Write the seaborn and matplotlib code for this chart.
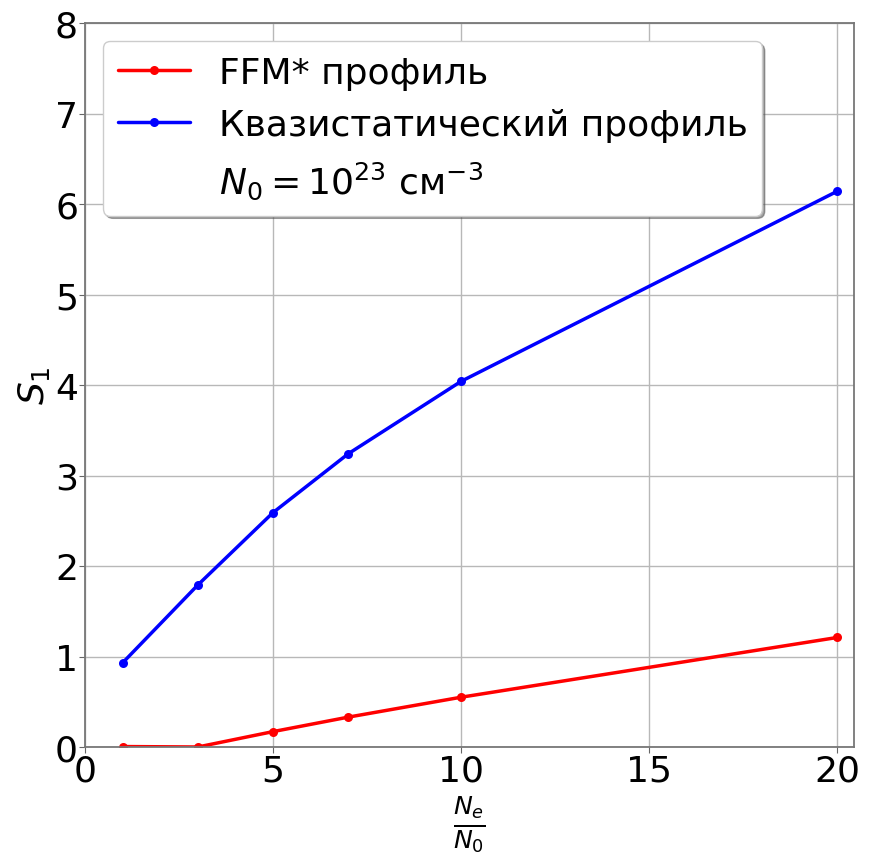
import matplotlib
matplotlib.use("Agg")
import matplotlib.pyplot as plt
import seaborn as sns
import pandas as pd

ratio = [1, 3, 5, 7, 10, 20]
s1_ffm = [0.005, 0.0, 0.17, 0.33, 0.55, 1.21]
s1_quasi = [0.93, 1.79, 2.59, 3.24, 4.04, 6.14]
label_ffm = "FFM* профиль"
label_quasi = "Квазистатический профиль"
label_n0 = "$N_0 = 10^{23}$ см$^{-3}$"

sns.set_style("whitegrid")
plt.rcParams['font.family'] = ['DejaVu Sans']
plt.rcParams['text.color'] = 'black'
plt.rcParams['axes.labelcolor'] = 'black'
plt.rcParams['xtick.color'] = 'black'
plt.rcParams['ytick.color'] = 'black'

fig, ax = plt.subplots(figsize=(8.7, 8.53), dpi=100)
fig.subplots_adjust(left=85/870, right=854/870, top=1-24/853, bottom=1-748/853)

df_ffm = pd.DataFrame({"x": ratio, "y": s1_ffm})
df_q = pd.DataFrame({"x": ratio, "y": s1_quasi})
sns.lineplot(data=df_ffm, x="x", y="y", ax=ax, color="red", marker="o",
             markersize=6.5, markeredgewidth=0, linewidth=2.5, label=label_ffm)
sns.lineplot(data=df_q, x="x", y="y", ax=ax, color="blue", marker="o",
             markersize=6.5, markeredgewidth=0, linewidth=2.5, label=label_quasi)
ax.plot([], [], ' ', label=label_n0)

ax.set_xlim(0, 20.45)
ax.set_ylim(0, 8)
ax.set_xticks([0, 5, 10, 15, 20])
ax.set_yticks(range(0, 9))
ax.tick_params(axis='both', labelsize=26, length=4, color='#666666', direction='out',
               bottom=True, left=True, pad=1, labelcolor='black')
ax.grid(True, color='#b8b8b8', linewidth=1)
for sp in ax.spines.values():
    sp.set_color('#777777')
    sp.set_linewidth(1.3)

ax.set_xlabel(r"$\frac{N_e}{N_0}$", fontsize=26, labelpad=4, color='black')
ax.set_ylabel(r"$S_1$", fontsize=26, labelpad=2, color='black')

leg = ax.legend(loc="upper left", fontsize=26, frameon=True, shadow=True,
                fancybox=True, framealpha=1, handlelength=2.0)
leg.get_frame().set_edgecolor('#cccccc')
for t in leg.get_texts():
    t.set_color('black')

fig.savefig("out.png", dpi=100)
